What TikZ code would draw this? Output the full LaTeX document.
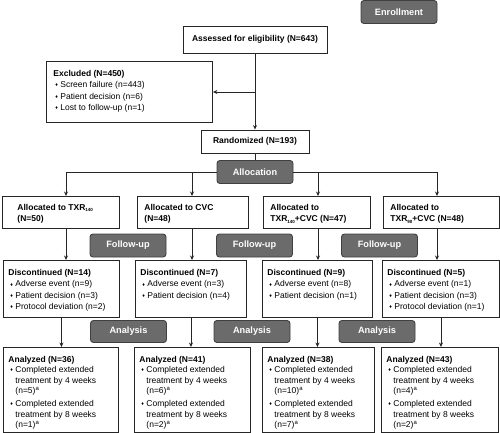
\documentclass[tikz,border=0pt]{standalone}
\usepackage{fontspec}
\setmainfont{Liberation Sans}
\newfontfamily\symfont{DejaVu Sans}
\usetikzlibrary{arrows.meta}

\newcommand{\bul}{\hspace*{1.5pt}\makebox[5.5pt][l]{\raisebox{0.9pt}{\symfont\fontsize{4}{4}\selectfont ♦}}}
\newcommand{\cont}{\hspace*{7pt}}
\newcommand{\topbox}[3]{\parbox[t][#2][t]{#1}{#3}}
\newcommand{\dose}[1]{\raisebox{-1.5pt}{\fontsize{4.5}{5}\selectfont #1}}

\tikzset{
  box/.style={draw=black!85, line width=0.9pt, anchor=north west, inner xsep=5pt, inner ysep=8.5pt,
    font=\fontsize{8.5}{11.3}\selectfont},
  mid/.style={draw=black!85, line width=0.9pt, font=\fontsize{8.5}{11}\selectfont\bfseries},
  phase/.style={draw=black!75, fill=black!58, text=white, rounded corners=3pt, line width=0.9pt,
    minimum width=76, minimum height=23, font=\fontsize{9.2}{11}\selectfont\bfseries},
  arr/.style={-{Stealth[length=4.5pt,width=4pt]}, line width=0.9pt, draw=black!85},
  ln/.style={line width=0.9pt, draw=black!85}
}

\begin{document}
\begin{tikzpicture}[x=1pt,y=-1pt]
  \useasboundingbox (0,0) rectangle (500,433);

  % enrollment
  \node[phase] (enroll) at (399,12) {Enrollment};
  \node[mid, minimum width=144, minimum height=27] (assess) at (255,39.5) {Assessed for eligibility (N=643)};
  \node[box, inner xsep=7pt] (excl) at (46,61) {\topbox{152pt}{44pt}{\fontsize{8.5}{11.5}\selectfont
    \textbf{Excluded (N=450)}\\
    \bul Screen failure (n=443)\\
    \bul Patient decision (n=6)\\
    \bul Lost to follow-up (n=1)}};
  \node[mid, minimum width=108, minimum height=23] (rand) at (255,141.5) {Randomized (N=193)};
  \coordinate (br) at (255,92);
  \draw[arr] (assess) -- (rand);
  \draw[arr] (br) -- (br -| excl.east);

  % allocation
  \node[phase] (alloc) at (255,172) {Allocation};
  \coordinate (tr1) at (66,172);
  \coordinate (tr2) at (192,172);
  \coordinate (tr3) at (318,172);
  \coordinate (tr4) at (437,172);
  \node[box, inner xsep=15pt, inner ysep=7.5pt] (al1) at (2,196) {\topbox{87pt}{17pt}{\fontsize{8.5}{11.5}\selectfont\bfseries
    Allocated to TXR\dose{140}\\(N=50)}};
  \node[box, inner xsep=7pt, inner ysep=7.5pt] (al2) at (137,196) {\topbox{97pt}{17pt}{\fontsize{8.5}{11.5}\selectfont\bfseries
    Allocated to CVC\\(N=48)}};
  \node[box, inner xsep=7pt, inner ysep=7.5pt] (al3) at (263,196) {\topbox{93pt}{17pt}{\fontsize{8.5}{11.5}\selectfont\bfseries
    Allocated to\\TXR\dose{140}+CVC (N=47)}};
  \node[box, inner xsep=7pt, inner ysep=7.5pt] (al4) at (383,196) {\topbox{102pt}{17pt}{\fontsize{8.5}{11.5}\selectfont\bfseries
    Allocated to\\TXR\dose{90}+CVC (N=48)}};
  \draw[ln] (rand) -- (alloc);
  \draw[ln] (tr1) -- (alloc);
  \draw[ln] (alloc) -- (tr4);
  \foreach \i in {1,...,4}
    \draw[arr] (tr\i) -- (tr\i |- al\i.north);

  % follow-up
  \node[phase] (fu1) at (128,245.5) {Follow-up};
  \node[phase] (fu2) at (254.5,245.5) {Follow-up};
  \node[phase] (fu3) at (379.5,245.5) {Follow-up};
  \node[box, inner ysep=9pt] (d1) at (3,260) {\topbox{106pt}{39pt}{
    \textbf{Discontinued (N=14)}\\
    \bul Adverse event (n=9)\\
    \bul Patient decision (n=3)\\
    \bul Protocol deviation (n=2)}};
  \node[box, inner ysep=9pt] (d2) at (135,260) {\topbox{101pt}{39pt}{
    \textbf{Discontinued (N=7)}\\
    \bul Adverse event (n=3)\\
    \bul Patient decision (n=4)}};
  \node[box, inner ysep=9pt] (d3) at (262,260) {\topbox{100pt}{39pt}{
    \textbf{Discontinued (N=9)}\\
    \bul Adverse event (n=8)\\
    \bul Patient decision (n=1)}};
  \node[box, inner ysep=9pt] (d4) at (382,260) {\topbox{107pt}{39pt}{
    \textbf{Discontinued (N=5)}\\
    \bul Adverse event (n=1)\\
    \bul Patient decision (n=3)\\
    \bul Protocol deviation (n=1)}};
  \foreach \i in {1,...,4}
    \draw[arr] (tr\i |- al\i.south) -- (tr\i |- d\i.north);

  % analysis
  \node[phase, minimum height=22] (an1) at (128.5,331.5) {Analysis};
  \node[phase, minimum height=22] (an2) at (252,331.5) {Analysis};
  \node[phase, minimum height=22] (an3) at (377,331.5) {Analysis};
  \node[box, font=\fontsize{8.5}{10.5}\selectfont] (a1) at (3,347) {\topbox{105pt}{68pt}{
    \textbf{Analyzed (N=36)}\\
    \bul Completed extended\\
    \cont treatment by 4 weeks\\
    \cont (n=5)\textsuperscript{a}\\[2.5pt]
    \bul Completed extended\\
    \cont treatment by 8 weeks\\
    \cont (n=1)\textsuperscript{a}}};
  \node[box, font=\fontsize{8.5}{10.5}\selectfont] (a2) at (134,347) {\topbox{106pt}{68pt}{
    \textbf{Analyzed (N=41)}\\
    \bul Completed extended\\
    \cont treatment by 4 weeks\\
    \cont (n=6)\textsuperscript{a}\\[2.5pt]
    \bul Completed extended\\
    \cont treatment by 8 weeks\\
    \cont (n=2)\textsuperscript{a}}};
  \node[box, font=\fontsize{8.5}{10.5}\selectfont] (a3) at (262,347) {\topbox{102pt}{68pt}{
    \textbf{Analyzed (N=38)}\\
    \bul Completed extended\\
    \cont treatment by 4 weeks\\
    \cont (n=10)\textsuperscript{a}\\[2.5pt]
    \bul Completed extended\\
    \cont treatment by 8 weeks\\
    \cont (n=7)\textsuperscript{a}}};
  \node[box, font=\fontsize{8.5}{10.5}\selectfont] (a4) at (381,347) {\topbox{107pt}{68pt}{
    \textbf{Analyzed (N=43)}\\
    \bul Completed extended\\
    \cont treatment by 4 weeks\\
    \cont (n=4)\textsuperscript{a}\\[2.5pt]
    \bul Completed extended\\
    \cont treatment by 8 weeks\\
    \cont (n=2)\textsuperscript{a}}};
  \foreach \i in {1,...,4}
    \draw[arr] (d\i.south) -- (d\i.south |- a\i.north);
\end{tikzpicture}
\end{document}
